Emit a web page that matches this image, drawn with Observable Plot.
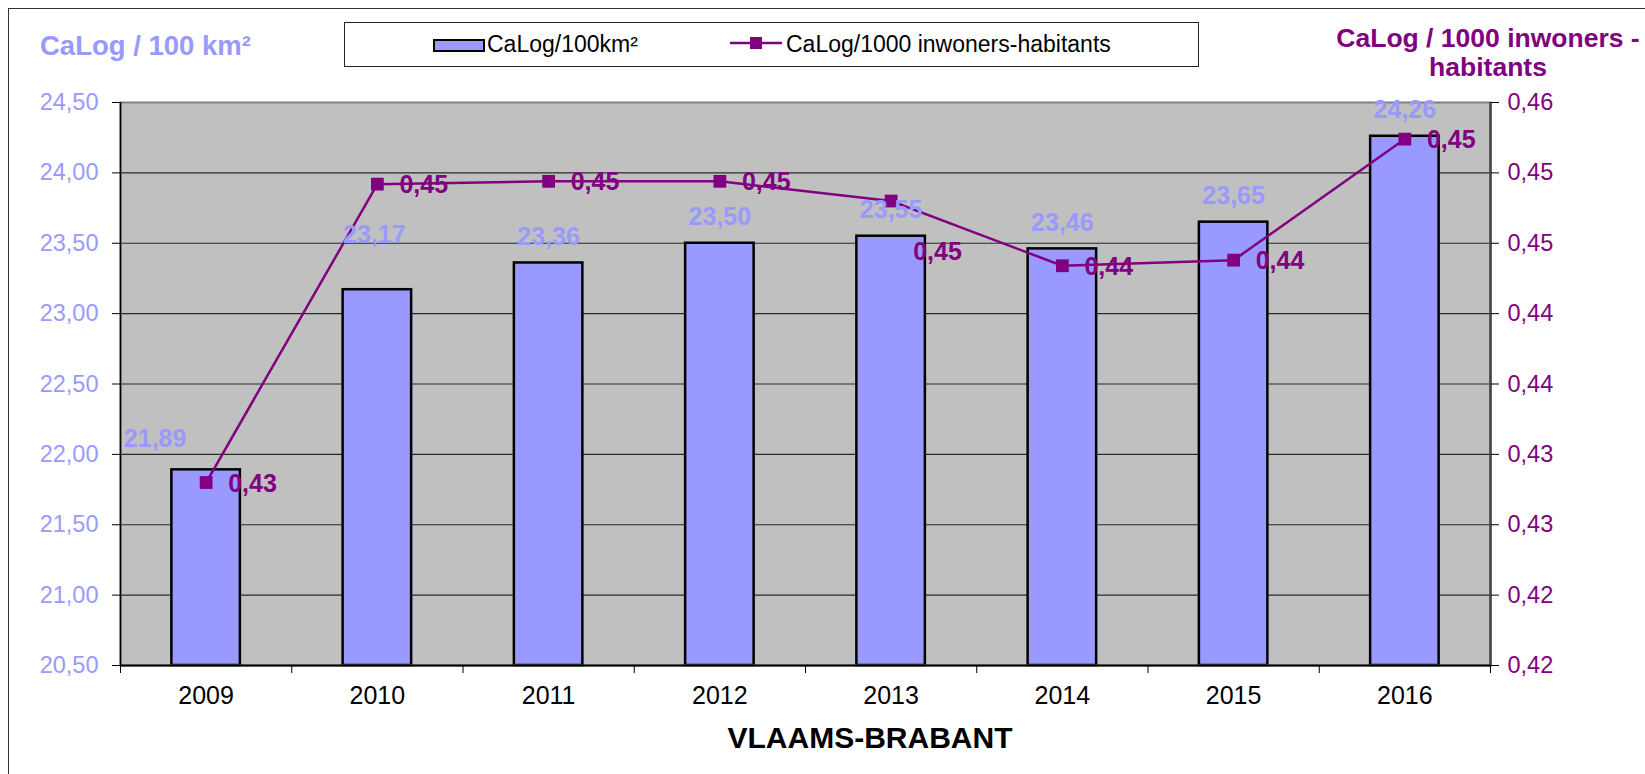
<!DOCTYPE html>
<html>
<head>
<meta charset="utf-8">
<script src="https://cdn.jsdelivr.net/npm/d3@7"></script>
<script src="https://cdn.jsdelivr.net/npm/@observablehq/plot@0.6"></script>
<style>
  body { margin: 0; background: #fff; font-family: "Liberation Sans", Arial, sans-serif; }
  #wrap { position: relative; width: 1645px; height: 774px; overflow: hidden; background: #fff; }
  #border { position: absolute; left: 8px; top: 8px; width: 1720px; height: 820px; border: 1.5px solid #333; box-sizing: border-box; }
  #chart { position: absolute; left: 0; top: 0; }
  .abs { position: absolute; white-space: nowrap; }
  #ltitle { left: 40px; top: 32px; font-size: 27.5px; font-weight: bold; color: #9999FF; line-height: 28px; }
  #rtitle { left: 1288px; width: 400px; top: 24px; font-size: 26.5px; font-weight: bold; color: #800080; line-height: 29px; text-align: center; }
  #legend { left: 344px; top: 22px; width: 855px; height: 45px; border: 1.5px solid #222; background: #fff; box-sizing: border-box; }
  .ltext { font-size: 23px; color: #000; line-height: 23px; }
  #xtitle { left: 0; width: 1740px; top: 723px; text-align: center; font-size: 30px; font-weight: bold; color: #000; line-height: 30px; }
</style>
</head>
<body>
<div id="wrap">
  <div id="border"></div>
  <div id="chart"></div>
  <div id="ltitle" class="abs">CaLog / 100 km²</div>
  <div id="rtitle" class="abs">CaLog / 1000 inwoners -<br>habitants</div>
  <div id="legend" class="abs"></div>
  <div id="leg1sw" class="abs" style="left:433px;top:39px;width:52px;height:13px;background:#9999FF;border:2.5px solid #000;box-sizing:border-box;"></div>
  <div id="leg1tx" class="abs ltext" style="left:487px;top:33px;">CaLog/100km²</div>
  <svg class="abs" style="left:729px;top:34px;" width="54" height="20">
    <line x1="1" y1="9" x2="53" y2="9" stroke="#800080" stroke-width="2.5"/>
    <rect x="21" y="3" width="12" height="12" fill="#800080"/>
  </svg>
  <div id="leg2tx" class="abs ltext" style="left:786px;top:33px;">CaLog/1000 inwoners-habitants</div>
  <div id="xtitle" class="abs">VLAAMS-BRABANT</div>
</div>
<script>
// ---- data ----
const years = ["2009", "2010", "2011", "2012", "2013", "2014", "2015", "2016"];
const calogPer100km2 = [21.89, 23.17, 23.36, 23.50, 23.55, 23.46, 23.65, 24.26];
const calogPer1000 = [0.4290, 0.4502, 0.4504, 0.4504, 0.4490, 0.4444, 0.4448, 0.4534];
const leftTicks = [20.5, 21.0, 21.5, 22.0, 22.5, 23.0, 23.5, 24.0, 24.5];
const rightTicks = [0.416, 0.421, 0.426, 0.431, 0.436, 0.441, 0.446, 0.451, 0.456];

// ---- helpers ----
const leftDomain = [leftTicks[0], leftTicks[leftTicks.length - 1]];
const rightDomain = [rightTicks[0], rightTicks[rightTicks.length - 1]];
const toLeft = v => leftDomain[0] + (v - rightDomain[0]) * (leftDomain[1] - leftDomain[0]) / (rightDomain[1] - rightDomain[0]);
const toRight = v => rightDomain[0] + (v - leftDomain[0]) * (rightDomain[1] - rightDomain[0]) / (leftDomain[1] - leftDomain[0]);
const fmt2 = v => v.toFixed(2).replace(".", ",");

const rows = years.map((year, i) => ({ i, year, bar: calogPer100km2[i], rate: calogPer1000[i] }));
const cx = d => d.i + 0.5;
const ry = d => toLeft(d.rate);

const BLUE = "#9999FF", PURPLE = "#800080";

const chart = Plot.plot({
  width: 1645,
  height: 774,
  marginLeft: 120,
  marginRight: 155,
  marginTop: 102,
  marginBottom: 109,
  style: { fontFamily: "'Liberation Sans', Arial, sans-serif", fontSize: "23px", background: "transparent", overflow: "visible" },
  x: { type: "linear", domain: [0, years.length], label: null },
  y: { domain: leftDomain, label: null },
  marks: [
    Plot.frame({ fill: "#C0C0C0", stroke: "none" }),
    Plot.gridY({ ticks: leftTicks.slice(1, -1), stroke: "#2a2a2a", strokeOpacity: 1, strokeWidth: 1.2 }),
    Plot.rectY(rows, { x1: d => d.i + 0.3, x2: d => d.i + 0.7, y1: leftDomain[0], y2: "bar", fill: BLUE, stroke: "#000", strokeWidth: 2.5 }),
    Plot.frame({ stroke: "#808080", strokeWidth: 2 }),
    Plot.ruleX([0], { stroke: "#000", strokeWidth: 1.5 }),
    Plot.ruleX([years.length], { stroke: "#444", strokeWidth: 2.5 }),
    Plot.ruleY([leftDomain[0]], { stroke: "#000", strokeWidth: 2 }),
    // axes
    Plot.axisY({ anchor: "left", ticks: leftTicks, tickSize: 8, tickPadding: 14, tickFormat: fmt2, fill: BLUE, stroke: "#000", fontSize: 23.5, label: null }),
    Plot.axisY({ anchor: "right", ticks: leftTicks, tickSize: 8, tickPadding: 9, tickFormat: v => fmt2(toRight(v)), fill: PURPLE, stroke: "#000", fontSize: 23.5, label: null }),
    Plot.axisX({ ticks: d3.range(years.length + 1), tickSize: 8, tickFormat: () => "", stroke: "#000", label: null }),
    Plot.axisX({ ticks: years.map((_, i) => i + 0.5), tickSize: 0, tickPadding: 21, tickFormat: v => years[Math.floor(v)], fill: "#000", fontSize: 25, label: null }),
    // line series
    Plot.line(rows, { x: cx, y: ry, stroke: PURPLE, strokeWidth: 2.5 }),
    Plot.dot(rows, { x: cx, y: ry, symbol: "square", r: 7.2, fill: PURPLE, stroke: "none" }),
    // bar labels
    Plot.text(rows.filter(d => d.i >= 2), { x: cx, y: "bar", text: d => fmt2(d.bar), dy: -26, fill: BLUE, fontWeight: "bold", fontSize: 25 }),
    Plot.text(rows.filter(d => d.i === 0), { x: cx, y: "bar", text: d => fmt2(d.bar), dx: -51, dy: -31, fill: BLUE, fontWeight: "bold", fontSize: 25 }),
    Plot.text(rows.filter(d => d.i === 1), { x: cx, y: "bar", text: d => fmt2(d.bar), dx: -3, dy: -55, fill: BLUE, fontWeight: "bold", fontSize: 25 }),
    // line labels
    Plot.text(rows.filter(d => d.i !== 4), { x: cx, y: ry, text: d => fmt2(d.rate), textAnchor: "start", dx: 22, dy: 1, fill: PURPLE, fontWeight: "bold", fontSize: 25 }),
    Plot.text(rows.filter(d => d.i === 4), { x: cx, y: ry, text: d => fmt2(d.rate), textAnchor: "start", dx: 22, dy: 51, fill: PURPLE, fontWeight: "bold", fontSize: 25 })
  ]
});
document.getElementById("chart").appendChild(chart);
</script>
</body>
</html>
